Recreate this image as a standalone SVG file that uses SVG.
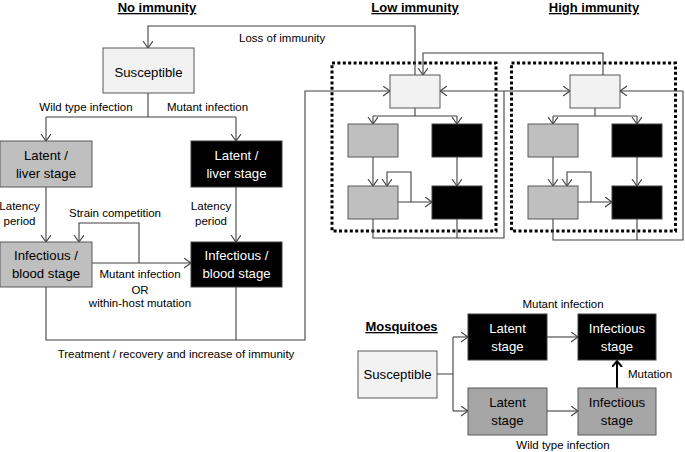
<svg xmlns="http://www.w3.org/2000/svg" width="685" height="452" viewBox="0 0 685 452">
<style>
text{font-family:"Liberation Sans",Arial,sans-serif;fill:#000}
.lbl{font-size:11.5px}
.box{font-size:13.2px;text-anchor:middle}
.w{fill:#fff}
.title{font-size:13px;font-weight:bold;text-anchor:middle;text-decoration:underline}
.sus{fill:#f2f2f2;stroke:#595959;stroke-width:1}
.wt{fill:#bfbfbf;stroke:#595959;stroke-width:1}
.wt2{fill:#a6a6a6;stroke:#595959;stroke-width:1}
.mu{fill:#000;stroke:#404040;stroke-width:1}
.ln{fill:none;stroke:#404040;stroke-width:1.1}
.ar{marker-end:url(#v)}
.dot{fill:none;stroke:#000;stroke-width:3;stroke-dasharray:3 2.4}
</style>
<defs>
<marker id="v" markerUnits="userSpaceOnUse" markerWidth="12" markerHeight="12" refX="7" refY="5" orient="auto">
<path d="M0,0 L7,5 L0,10" fill="none" stroke="#404040" stroke-width="1.1"/>
</marker>
<marker id="vt" markerUnits="userSpaceOnUse" markerWidth="12" markerHeight="12" refX="6" refY="5" orient="auto">
<path d="M0,0 L6,5 L0,10" fill="none" stroke="#000" stroke-width="2"/>
</marker>
</defs>

<text class="title" x="157" y="12">No immunity</text>
<text class="title" x="415" y="12">Low immunity</text>
<text class="title" x="594" y="12">High immunity</text>

<g id="dotted">
<rect class="dot" x="332" y="63" width="164" height="168"/>
<rect class="dot" x="511.5" y="63" width="164" height="168"/>
</g>

<g id="connectors">
<!-- loss of immunity -->
<path class="ln ar" d="M415,75 V26 H148 V48"/>
<path class="ln ar" d="M603,75 V53 H423 V75"/>
<!-- no immunity -->
<path class="ln" d="M148,93 V117 M46,117 H236"/>
<path class="ln ar" d="M46,117 V141"/>
<path class="ln ar" d="M236,117 V141"/>
<path class="ln ar" d="M46,187 V242"/>
<path class="ln ar" d="M236,187 V242"/>
<path class="ln ar" d="M92,263 H191"/>
<path class="ln ar" d="M139,263 V223 H79 V242"/>
<path class="ln ar" d="M46,287 V340 H305 V91 H390"/>
<path class="ln" d="M236,287 V340"/>
<!-- low immunity -->
<path class="ln" d="M415,108 V116 M373,116 H457"/>
<path class="ln ar" d="M373,116 V124"/>
<path class="ln ar" d="M457,116 V124"/>
<path class="ln ar" d="M373,157 V186"/>
<path class="ln ar" d="M457,157 V186"/>
<path class="ln ar" d="M398,202 H432"/>
<path class="ln ar" d="M411,202 V172 H387 V186"/>
<path class="ln" d="M373,219 V238 H504 V91 M457,219 V238"/>
<path class="ln ar" d="M504,91 H440"/>
<path class="ln ar" d="M504,91 H570"/>
<!-- high immunity -->
<path class="ln" d="M595,108 V116 M553,116 H637"/>
<path class="ln ar" d="M553,116 V124"/>
<path class="ln ar" d="M637,116 V124"/>
<path class="ln ar" d="M553,157 V186"/>
<path class="ln ar" d="M637,157 V186"/>
<path class="ln ar" d="M578,202 H612"/>
<path class="ln ar" d="M591,202 V172 H567 V186"/>
<path class="ln" d="M553,219 V240 H683 V91 M637,219 V240"/>
<path class="ln ar" d="M683,91 H620"/>
<!-- mosquitoes -->
<path class="ln" d="M437,374 H453 M453,337 V411"/>
<path class="ln ar" d="M453,337 H468"/>
<path class="ln ar" d="M453,411 H468"/>
<path class="ln ar" d="M547,337 H578"/>
<path class="ln ar" d="M547,411 H578"/>
<path d="M617,388 V361" fill="none" stroke="#000" stroke-width="2" marker-end="url(#vt)"/>
</g>

<g id="labels">
<text class="lbl" x="239" y="42">Loss of immunity</text>
<text class="lbl" x="86" y="111" text-anchor="middle">Wild type infection</text>
<text class="lbl" x="207.5" y="111" text-anchor="middle">Mutant infection</text>
<text class="lbl" x="19.5" y="210" text-anchor="middle">Latency</text>
<text class="lbl" x="19.5" y="225" text-anchor="middle">period</text>
<text class="lbl" x="211" y="210" text-anchor="middle">Latency</text>
<text class="lbl" x="211" y="225" text-anchor="middle">period</text>
<text class="lbl" x="115" y="217" text-anchor="middle">Strain competition</text>
<text class="lbl" x="140" y="278" text-anchor="middle">Mutant infection</text>
<text class="lbl" x="140" y="294" text-anchor="middle">OR</text>
<text class="lbl" x="140" y="307" text-anchor="middle">within-host mutation</text>
<text class="lbl" x="176" y="358" text-anchor="middle">Treatment / recovery and increase of immunity</text>
<text class="title" x="401.5" y="331">Mosquitoes</text>
<text class="lbl" x="563" y="308" text-anchor="middle">Mutant infection</text>
<text class="lbl" x="563" y="449" text-anchor="middle">Wild type infection</text>
<text class="lbl" x="628" y="378">Mutation</text>
</g>

<g id="n-susceptible"><rect class="sus" x="103" y="48" width="91" height="45"/><text class="box" x="148.5" y="76.5">Susceptible</text></g>
<g id="n-latent-wt"><rect class="wt" x="0" y="141" width="92" height="46"/><text class="box" x="46" y="159.5">Latent /</text><text class="box" x="46" y="177.5">liver stage</text></g>
<g id="n-latent-mu"><rect class="mu" x="191" y="141" width="91" height="46"/><text class="box w" x="236.5" y="159.5">Latent /</text><text class="box w" x="236.5" y="177.5">liver stage</text></g>
<g id="n-inf-wt"><rect class="wt" x="0" y="242" width="92" height="45"/><text class="box" x="46" y="260">Infectious /</text><text class="box" x="46" y="278">blood stage</text></g>
<g id="n-inf-mu"><rect class="mu" x="191" y="242" width="91" height="45"/><text class="box w" x="236.5" y="260">Infectious /</text><text class="box w" x="236.5" y="278">blood stage</text></g>

<g id="low-sus"><rect class="sus" x="390" y="75" width="50" height="33"/></g>
<g id="low-lat-wt"><rect class="wt" x="348" y="124" width="50" height="33"/></g>
<g id="low-lat-mu"><rect class="mu" x="432" y="124" width="50" height="33"/></g>
<g id="low-inf-wt"><rect class="wt" x="348" y="186" width="50" height="33"/></g>
<g id="low-inf-mu"><rect class="mu" x="432" y="186" width="50" height="33"/></g>

<g id="high-sus"><rect class="sus" x="570" y="75" width="50" height="33"/></g>
<g id="high-lat-wt"><rect class="wt" x="528" y="124" width="50" height="33"/></g>
<g id="high-lat-mu"><rect class="mu" x="612" y="124" width="50" height="33"/></g>
<g id="high-inf-wt"><rect class="wt" x="528" y="186" width="50" height="33"/></g>
<g id="high-inf-mu"><rect class="mu" x="612" y="186" width="50" height="33"/></g>

<g id="m-sus"><rect class="sus" x="358" y="351" width="79" height="47"/><text class="box" x="397.5" y="379">Susceptible</text></g>
<g id="m-lat-mu"><rect class="mu" x="468" y="314" width="79" height="46"/><text class="box w" x="507.5" y="333">Latent</text><text class="box w" x="507.5" y="351">stage</text></g>
<g id="m-inf-mu"><rect class="mu" x="578" y="314" width="78" height="46"/><text class="box w" x="617" y="333">Infectious</text><text class="box w" x="617" y="351">stage</text></g>
<g id="m-lat-wt"><rect class="wt2" x="468" y="388" width="79" height="47"/><text class="box" x="507.5" y="407">Latent</text><text class="box" x="507.5" y="425">stage</text></g>
<g id="m-inf-wt"><rect class="wt2" x="578" y="388" width="78" height="47"/><text class="box" x="617" y="407">Infectious</text><text class="box" x="617" y="425">stage</text></g>
</svg>
